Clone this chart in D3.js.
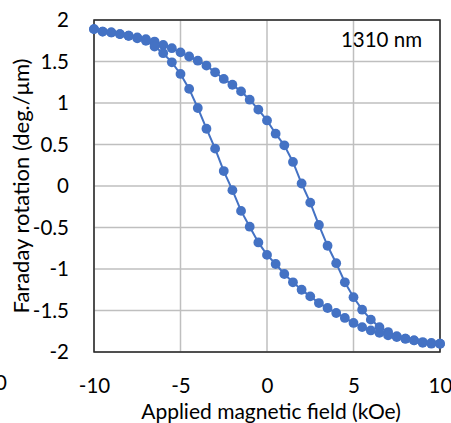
<!DOCTYPE html>
<html>
<head>
<meta charset="utf-8">
<script src="https://cdn.jsdelivr.net/npm/d3@7"></script>
<style>
  body { margin: 0; background: #fff; }
  svg { display: block; font-family: Lato, "Open Sans", sans-serif; }
</style>
</head>
<body>
<svg></svg>
<script>
// field values (kOe), 0.5 kOe steps
const fields = d3.range(-10, 10.001, 0.5)

// upper branch of the loop
const upper = [1.89, 1.86, 1.85, 1.83, 1.81, 1.79, 1.77, 1.74, 1.70, 1.66, 1.61,
  1.56, 1.51, 1.45, 1.37, 1.29, 1.22, 1.14, 1.04, 0.92, 0.79,
  0.63, 0.49, 0.29, 0.03, -0.20, -0.47, -0.72, -0.93, -1.16, -1.34,
  -1.49, -1.61, -1.70, -1.76, -1.81, -1.84, -1.86, -1.89, -1.90, -1.90]

// lower branch of the loop
const lower = [1.89, 1.86, 1.85, 1.83, 1.81, 1.78, 1.75, 1.68, 1.60, 1.49, 1.35,
  1.17, 0.94, 0.69, 0.45, 0.18, -0.05, -0.30, -0.49, -0.68, -0.83,
  -0.94, -1.06, -1.16, -1.25, -1.33, -1.41, -1.47, -1.53, -1.59, -1.65,
  -1.70, -1.74, -1.77, -1.80, -1.82, -1.84, -1.86, -1.88, -1.89, -1.90]

const xTicks = [-10, -5, 0, 5, 10]
const yTicks = [-2, -1.5, -1, -0.5, 0, 0.5, 1, 1.5, 2]

const width = 451, height = 423
const margin = ({ top: 20, right: 11, bottom: 71, left: 94 })
const blue = "#4472C4"

const svg = d3.select("svg").attr("width", width).attr("height", height)

const x = d3.scaleLinear().domain([-10, 10]).range([margin.left, width - margin.right])
const y = d3.scaleLinear().domain([-2, 2]).range([height - margin.bottom, margin.top])

// gridlines
svg.append("g").selectAll("line").data(yTicks).join("line")
  .attr("x1", x(-10)).attr("x2", x(10))
  .attr("y1", d => y(d)).attr("y2", d => y(d))
  .attr("stroke", "#BFBFBF").attr("stroke-width", 1.5)
svg.append("g").selectAll("line").data(xTicks).join("line")
  .attr("y1", y(-2)).attr("y2", y(2))
  .attr("x1", d => x(d)).attr("x2", d => x(d))
  .attr("stroke", "#BFBFBF").attr("stroke-width", 1.5)

// frame
svg.append("rect")
  .attr("x", x(-10)).attr("y", y(2))
  .attr("width", x(10) - x(-10)).attr("height", y(-2) - y(2))
  .attr("fill", "none").attr("stroke", "#262626").attr("stroke-width", 1.5)

// axes (labels only), plain hyphen for negatives like the original
const fmt = d => String(d)
const yAxis = svg.append("g")
  .attr("transform", `translate(${x(-10) - 22},0)`)
  .call(d3.axisLeft(y).tickValues(yTicks).tickSize(0).tickFormat(fmt))
const xAxis = svg.append("g")
  .attr("transform", `translate(0,${y(-2) + 23})`)
  .call(d3.axisBottom(x).tickValues(xTicks).tickSize(0).tickFormat(fmt))
for (const ax of [xAxis, yAxis]) {
  ax.select(".domain").remove()
  ax.selectAll("text").attr("font-size", 20.5).attr("fill", "#000")
    .attr("font-family", "Lato, sans-serif")
}
xAxis.selectAll("text").attr("dy", "0.71em")

// leftover label of the neighbouring chart, cut at the left edge as in the original
svg.append("text").attr("x", 1).attr("y", y(-2) + 38)
  .attr("text-anchor", "middle").attr("font-size", 20.5).text("0")

// titles
svg.append("text")
  .attr("x", x(0) + 4).attr("y", 419)
  .attr("text-anchor", "middle").attr("font-size", 21).text("Applied magnetic field (kOe)")
svg.append("text")
  .attr("transform", `translate(29,${y(0)}) rotate(-90)`)
  .attr("text-anchor", "middle").attr("font-size", 22).text("Faraday rotation (deg./μm)")
svg.append("text")
  .attr("x", 422).attr("y", 47)
  .attr("text-anchor", "end").attr("font-size", 20.5).text("1310 nm")

// loops
const line = d3.line().x(d => x(d[0])).y(d => y(d[1]))
for (const branch of [upper, lower]) {
  const pts = fields.map((f, i) => [f, branch[i]])
  svg.append("path").datum(pts).attr("d", line)
    .attr("fill", "none").attr("stroke", blue).attr("stroke-width", 2)
  svg.append("g").selectAll("circle").data(pts).join("circle")
    .attr("cx", d => x(d[0])).attr("cy", d => y(d[1])).attr("r", 4.9)
    .attr("fill", blue)
}
</script>
</body>
</html>
